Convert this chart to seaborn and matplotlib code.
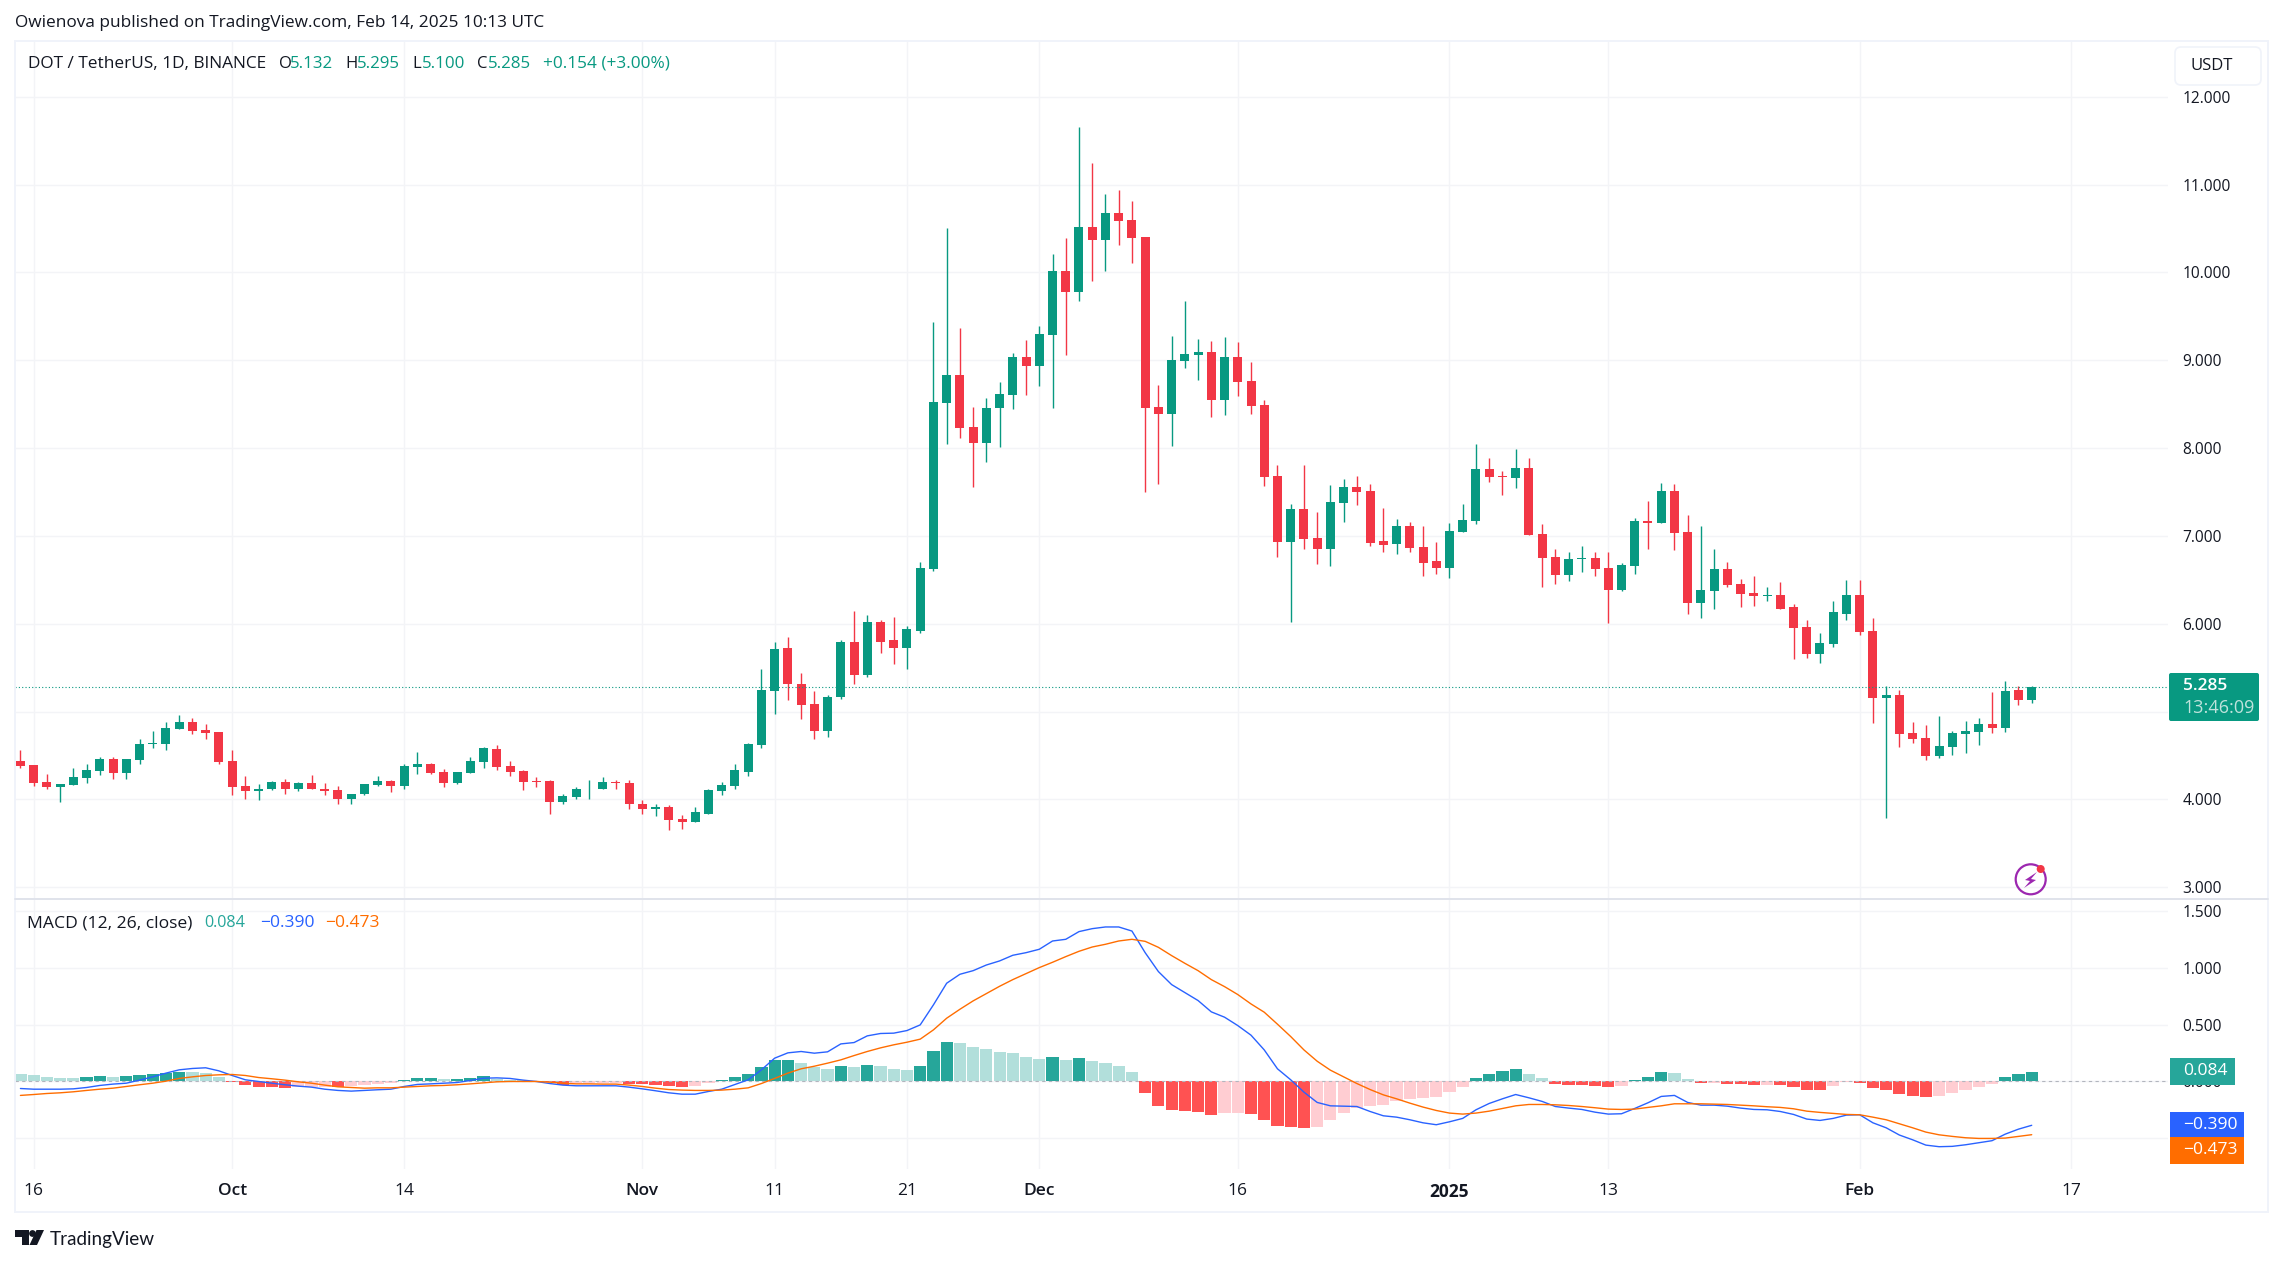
import numpy as np
import pandas as pd
import seaborn as sns
import matplotlib.pyplot as plt
from matplotlib.patches import Rectangle, FancyBboxPatch, Circle, Polygon, Arc

# Daily candles, DOT / USDT, 15 Sep 2024 to 14 Feb 2025
candle_dir = ("RRRGGGGRGG" "GGGRRRRRGG" "RGRRRGGGRG" "GRRGGGRRRR" "RGGGGRRRGR"
              "RGGGGGGGRR" "RGGRGRRGGG" "GRRGGGRGGR" "GRGRRRRGGG" "RGRRRRGRRG"
              "GRRRGRRRGG" "GRRGRRRGGR" "RGGRGRRGGR" "RRGRRRGGGR" "RGRRRGGGGR" "GRG")

highs = [4.559, 4.388, 4.285, 4.171, 4.354, 4.399, 4.479, 4.479, 4.456, 4.684,
         4.776, 4.878, 4.958, 4.924, 4.856, 4.764, 4.559, 4.262, 4.171, 4.205,
         4.228, 4.194, 4.274, 4.183, 4.148, 4.068, 4.171, 4.262, 4.217, 4.399,
         4.536, 4.410, 4.342, 4.308, 4.479, 4.593, 4.616, 4.433, 4.331, 4.251,
         4.217, 4.057, 4.137, 4.217, 4.251, 4.217, 4.217, 3.989, 3.943, 3.932,
         3.829, 3.909, 4.125, 4.194, 4.399, 4.639, 5.487, 5.798, 5.845, 5.436,
         5.232, 5.186, 5.812, 6.151, 6.104, 6.049, 6.081, 5.979, 6.698, 9.436,
         10.503, 9.367, 8.471, 8.573, 8.754, 9.084, 9.232, 9.390, 10.211, 10.392,
         11.654, 11.246, 10.893, 10.940, 10.814, 10.401, 8.722, 9.278, 9.677, 9.241,
         9.223, 9.265, 9.209, 8.981, 8.550, 7.812, 7.367, 7.812, 7.278, 7.585,
         7.652, 7.686, 7.595, 7.322, 7.197, 7.163, 7.117, 6.936, 7.152, 7.367,
         8.049, 7.890, 7.742, 7.992, 7.890, 7.140, 6.856, 6.822, 6.890, 6.822,
         6.822, 6.697, 7.208, 7.402, 7.606, 7.595, 7.242, 7.117, 6.856, 6.708,
         6.515, 6.549, 6.424, 6.481, 6.220, 6.049, 5.890, 6.265, 6.504, 6.504,
         6.061, 5.288, 5.242, 4.879, 4.845, 4.947, 4.777, 4.890, 4.924, 5.220,
         5.345, 5.288, 5.295]
body_top = [4.433, 4.388, 4.194, 4.171, 4.251, 4.331, 4.456, 4.456, 4.456, 4.627,
            4.639, 4.810, 4.878, 4.878, 4.787, 4.764, 4.433, 4.148, 4.125, 4.194,
            4.194, 4.183, 4.183, 4.125, 4.103, 4.068, 4.171, 4.205, 4.205, 4.376,
            4.399, 4.399, 4.308, 4.308, 4.433, 4.582, 4.570, 4.376, 4.319, 4.205,
            4.205, 4.034, 4.125, 4.125, 4.194, 4.194, 4.183, 3.954, 3.909, 3.909,
            3.783, 3.852, 4.103, 4.160, 4.331, 4.627, 5.243, 5.718, 5.719, 5.320,
            5.084, 5.172, 5.798, 5.798, 6.016, 6.016, 5.812, 5.937, 6.638, 8.527,
            8.833, 8.833, 8.244, 8.457, 8.619, 9.037, 9.037, 9.302, 10.016, 10.016,
            10.517, 10.517, 10.675, 10.675, 10.596, 10.401, 8.471, 9.005, 9.074, 9.097,
            9.097, 9.037, 9.037, 8.768, 8.494, 7.687, 7.302, 7.302, 6.981, 7.390,
            7.561, 7.561, 7.515, 6.947, 7.117, 7.117, 6.879, 6.720, 7.061, 7.186,
            7.765, 7.765, 7.686, 7.777, 7.777, 7.026, 6.765, 6.742, 6.754, 6.754,
            6.640, 6.674, 7.174, 7.174, 7.515, 7.515, 7.049, 6.390, 6.629, 6.629,
            6.458, 6.356, 6.333, 6.333, 6.186, 5.958, 5.777, 6.129, 6.333, 6.333,
            5.913, 5.186, 5.186, 4.754, 4.697, 4.606, 4.754, 4.777, 4.856, 4.856,
            5.231, 5.242, 5.285]
body_bottom = [4.376, 4.183, 4.137, 4.137, 4.160, 4.240, 4.319, 4.297, 4.297, 4.445,
               4.627, 4.627, 4.798, 4.776, 4.753, 4.422, 4.137, 4.091, 4.091, 4.114,
               4.125, 4.125, 4.114, 4.091, 4.011, 4.011, 4.057, 4.160, 4.148, 4.148,
               4.365, 4.297, 4.183, 4.183, 4.297, 4.422, 4.365, 4.308, 4.194, 4.194,
               3.977, 3.977, 4.023, 4.114, 4.114, 4.183, 3.943, 3.897, 3.897, 3.772,
               3.738, 3.738, 3.840, 4.091, 4.148, 4.308, 4.616, 5.240, 5.311, 5.070,
               4.777, 4.777, 5.162, 5.422, 5.422, 5.798, 5.719, 5.719, 5.923, 6.629,
               8.517, 8.230, 8.063, 8.063, 8.457, 8.606, 8.935, 8.935, 9.288, 9.780,
               9.780, 10.369, 10.369, 10.587, 10.392, 8.457, 8.392, 8.392, 8.995, 9.060,
               8.550, 8.550, 8.754, 8.480, 7.673, 6.935, 6.935, 6.967, 6.847, 6.847,
               7.379, 7.504, 6.924, 6.902, 6.913, 6.867, 6.697, 6.640, 6.640, 7.049,
               7.174, 7.674, 7.674, 7.663, 7.015, 6.754, 6.561, 6.561, 6.742, 6.629,
               6.390, 6.390, 6.663, 7.152, 7.152, 7.038, 6.242, 6.242, 6.379, 6.447,
               6.345, 6.322, 6.322, 6.174, 5.947, 5.652, 5.652, 5.765, 6.117, 5.902,
               5.152, 5.152, 4.742, 4.686, 4.492, 4.492, 4.595, 4.742, 4.765, 4.811,
               4.811, 5.129, 5.132]
lows = [4.354, 4.152, 4.125, 3.966, 4.160, 4.183, 4.274, 4.228, 4.228, 4.399,
        4.582, 4.559, 4.798, 4.741, 4.684, 4.399, 4.046, 4.000, 3.989, 4.103,
        4.068, 4.091, 4.114, 4.046, 3.943, 3.954, 4.046, 4.148, 4.080, 4.125,
        4.285, 4.285, 4.137, 4.171, 4.297, 4.354, 4.331, 4.262, 4.103, 4.137,
        3.840, 3.943, 4.000, 4.000, 4.114, 4.114, 3.897, 3.840, 3.817, 3.658,
        3.669, 3.738, 3.840, 4.046, 4.114, 4.262, 4.582, 4.970, 5.135, 4.912,
        4.694, 4.717, 5.139, 5.311, 5.399, 5.664, 5.538, 5.483, 5.891, 6.596,
        8.049, 8.118, 7.561, 7.845, 8.016, 8.448, 8.606, 8.708, 8.457, 9.060,
        9.677, 9.905, 10.016, 10.313, 10.109, 7.506, 7.594, 8.026, 8.912, 8.777,
        8.355, 8.378, 8.596, 8.392, 7.571, 6.763, 6.016, 6.847, 6.684, 6.661,
        7.163, 7.356, 6.890, 6.822, 6.799, 6.822, 6.549, 6.572, 6.527, 7.049,
        7.140, 7.617, 7.470, 7.549, 7.015, 6.424, 6.458, 6.492, 6.595, 6.549,
        6.004, 6.379, 6.572, 6.856, 7.152, 6.845, 6.117, 6.061, 6.163, 6.424,
        6.197, 6.208, 6.254, 6.174, 5.595, 5.606, 5.549, 5.731, 6.038, 5.867,
        4.867, 3.788, 4.595, 4.640, 4.447, 4.470, 4.504, 4.527, 4.617, 4.754,
        4.765, 5.072, 5.100]

# MACD (12, 26, close)
macd_hist = [.065, .056, .038, .029, .027, .038, .047, .038, .047, .056,
             .065, .074, .082, .08, .074, .038, -.006, -.032, -.05, -.052,
             -.059, -.052, -.05, -.048, -.05, -.041, -.032, -.024, -.015, .012,
             .029, .031, .02, .021, .029, .047, .02, .012, .009, .003,
             -.01, -.03, -.015, -.014, -.013, -.012, -.024, -.026, -.032, -.041,
             -.05, -.041, -.015, .012, .038, .065, .126, .188, .19, .162,
             .126, .109, .135, .126, .144, .135, .109, .1, .135, .268,
             .347, .338, .303, .285, .259, .25, .215, .197, .215, .188,
             .206, .179, .162, .135, .082, -.103, -.218, -.253, -.262, -.27,
             -.297, -.279, -.278, -.288, -.341, -.4, -.405, -.412, -.403, -.341,
             -.279, -.235, -.218, -.209, -.174, -.156, -.147, -.138, -.094, -.05,
             .029, .065, .091, .109, .065, .029, -.024, -.032, -.034, -.041,
             -.05, -.041, .012, .038, .082, .074, .02, -.015, -.013, -.024,
             -.026, -.032, -.031, -.033, -.05, -.076, -.078, -.041, -.006, -.015,
             -.059, -.076, -.112, -.129, -.138, -.129, -.103, -.076, -.05, -.024,
             .038, .065, .084]
macd_line = [-.065, -.071, -.071, -.071, -.068, -.056, -.038, -.026, -.018, .009,
             .038, .071, .1, .112, .118, .091, .05, .012, -.003, -.018,
             -.032, -.044, -.053, -.071, -.082, -.088, -.082, -.076, -.071, -.047,
             -.029, -.024, -.018, -.012, .006, .026, .029, .024, .009, -.003,
             -.021, -.035, -.041, -.041, -.041, -.041, -.053, -.068, -.085, -.103,
             -.115, -.115, -.091, -.071, -.029, .012, .1, .203, .25, .262,
             .247, .259, .329, .341, .4, .421, .424, .447, .497, .674,
             .865, .944, .976, 1.026, 1.062, 1.112, 1.135, 1.165, 1.238, 1.253,
             1.321, 1.347, 1.362, 1.362, 1.326, 1.135, .968, .853, .782, .712,
             .612, .565, .491, .406, .276, .109, .012, -.097, -.188, -.218,
             -.221, -.224, -.268, -.306, -.318, -.341, -.368, -.385, -.359, -.329,
             -.253, -.197, -.156, -.118, -.147, -.179, -.224, -.238, -.25, -.274,
             -.291, -.288, -.241, -.191, -.135, -.126, -.188, -.212, -.212, -.221,
             -.238, -.25, -.253, -.268, -.294, -.335, -.347, -.329, -.3, -.297,
             -.368, -.412, -.476, -.518, -.565, -.579, -.576, -.562, -.544, -.526,
             -.468, -.424, -.39]
signal_line = [-.126, -.118, -.109, -.103, -.094, -.082, -.071, -.062, -.047, -.032,
               -.018, 0, .024, .038, .05, .056, .059, .05, .032, .021,
               .009, -.006, -.018, -.035, -.05, -.056, -.062, -.059, -.059, -.053,
               -.047, -.041, -.038, -.032, -.024, -.015, -.006, -.003, -.003, -.003,
               -.009, -.018, -.024, -.024, -.026, -.026, -.035, -.047, -.062, -.074,
               -.079, -.082, -.082, -.079, -.071, -.059, -.021, .024, .071, .109,
               .132, .159, .188, .226, .262, .294, .321, .344, .371, .453,
               .556, .635, .709, .774, .838, .897, .95, 1.003, 1.05, 1.1,
               1.147, 1.185, 1.209, 1.238, 1.253, 1.235, 1.182, 1.109, 1.041, .976,
               .897, .835, .765, .682, .609, .503, .394, .276, .176, .097,
               .038, -.021, -.074, -.121, -.156, -.194, -.229, -.259, -.282, -.291,
               -.282, -.265, -.241, -.218, -.206, -.206, -.209, -.215, -.224, -.235,
               -.247, -.25, -.247, -.232, -.218, -.2, -.2, -.2, -.203, -.206,
               -.212, -.218, -.226, -.232, -.244, -.265, -.276, -.285, -.294, -.297,
               -.318, -.341, -.376, -.412, -.45, -.474, -.488, -.5, -.506, -.506,
               -.503, -.488, -.473]

price_ticks = [3, 4, 5, 6, 7, 8, 9, 10, 11, 12]
macd_ticks = [-0.5, 0, 0.5, 1.0, 1.5]
date_ticks = ['2024-09-16', '2024-10-01', '2024-10-14', '2024-11-01', '2024-11-11', '2024-11-21',
              '2024-12-01', '2024-12-16', '2025-01-01', '2025-01-13', '2025-02-01', '2025-02-17']
date_labels = ['16', 'Oct', '14', 'Nov', '11', '21', 'Dec', '16', '2025', '13', 'Feb', '17']

GREEN = '#089981'
RED = '#F23645'
GRID = '#F3F4F7'
INK = '#131722'
W, H = 2283, 1265

sns.set_theme(style='white')
plt.rcParams['font.family'] = ['Open Sans', 'DejaVu Sans']

dates = pd.date_range('2024-09-15', periods=len(highs))
days = np.arange(len(dates))
up = np.array([c == 'G' for c in candle_dir])
highs, lows = np.array(highs), np.array(lows)
body_top, body_bottom = np.array(body_top), np.array(body_bottom)
colors = np.where(up, GREEN, RED)

hist = np.array(macd_hist)
prev = np.r_[hist[0] + 1, hist[:-1]]
hist_kind = np.where(hist >= 0, np.where(hist >= prev, 'up_strong', 'up_weak'),
                     np.where(hist < prev, 'down_strong', 'down_weak'))
hist_df = pd.DataFrame({'day': days, 'hist': hist, 'kind': hist_kind})
hist_colors = {'up_strong': '#26A69A', 'up_weak': '#B2DFDB',
               'down_strong': '#FF5252', 'down_weak': '#FFCDD2'}


def box(left, top, right, bottom):
    return [left / W, 1 - bottom / H, (right - left) / W, (bottom - top) / H]


fig = plt.figure(figsize=(W / 100, H / 100), dpi=100)
ax = fig.add_axes(box(15, 41, 2168, 899))
ax2 = fig.add_axes(box(15, 899, 2168, 1169))

# candles
ax.vlines(days, lows, highs, colors=colors, linewidth=1.0, zorder=3)
ax.bar(days, body_top - body_bottom, bottom=body_bottom, width=0.68, color=colors,
       linewidth=0, zorder=4)
ax.axhline(5.285, color=GREEN, linestyle=(0, (1, 2)), linewidth=0.8, zorder=5)

# macd pane
sns.barplot(data=hist_df, x='day', y='hist', hue='kind', palette=hist_colors, dodge=False,
            native_scale=True, width=0.92, errorbar=None, legend=False, saturation=1,
            linewidth=0, ax=ax2, zorder=2)
ax2.axhline(0, color='#B2B5BE', linestyle=(0, (3, 3)), linewidth=0.8, zorder=3)
sns.lineplot(x=days, y=macd_line, color='#2962FF', linewidth=1.0, ax=ax2, zorder=4)
sns.lineplot(x=days, y=signal_line, color='#FF6D00', linewidth=1.0, ax=ax2, zorder=5)

date_pos = [dates.get_loc(pd.Timestamp(d)) if pd.Timestamp(d) in dates else len(dates) + 2
            for d in date_ticks]

for a in (ax, ax2):
    a.set_xlim(-0.41, 162.3)
    a.set_xlabel('')
    a.set_ylabel('')
    a.set_xticks(date_pos)
    a.grid(True, color=GRID, linewidth=1.0)
    a.set_axisbelow(True)
    a.yaxis.tick_right()
    a.tick_params(length=0, labelcolor=INK)
    for s in a.spines.values():
        s.set_visible(False)

# 5.000 and -0.500 sit behind the price tags in the original, so they get no label
ax.set_ylim(2.867, 12.635)
ax.set_yticks(price_ticks, ['' if v == 5 else f'{v:.3f}' for v in price_ticks], fontsize=11.2)
ax.tick_params(axis='y', pad=10.5)
ax.tick_params(axis='x', labelbottom=False)

ax2.set_ylim(-0.776, 1.609)
ax2.set_yticks(macd_ticks, ['' if v < 0 else f'{v:.3f}' for v in macd_ticks], fontsize=11.2)
ax2.tick_params(axis='y', pad=10.5)
ax2.set_xticklabels(date_labels, fontsize=12.5)
ax2.tick_params(axis='x', pad=10)
for lbl in ax2.get_xticklabels():
    if lbl.get_text() == '2025':
        lbl.set_fontweight('bold')
    elif not lbl.get_text().isdigit():
        lbl.set_fontweight('semibold')

# chrome drawn in picture pixels
ui = fig.add_axes([0, 0, 1, 1], zorder=10)
ui.set_xlim(0, W)
ui.set_ylim(H, 0)
ui.axis('off')
ui.patch.set_alpha(0)

ui.add_patch(Rectangle((14.5, 40.5), 2253.5, 1171.5, fill=False, edgecolor='#F0F3FA', linewidth=1.4))
ui.plot([15, 2268], [899, 899], color='#E0E3EB', linewidth=1.4)


def put(x, y, s, color=INK, size=12.4, **kw):
    ui.text(x, y, s, color=color, fontsize=size, va='center', ha=kw.pop('ha', 'left'), **kw)


put(15, 23, 'Owienova published on TradingView.com, Feb 14, 2025 10:13 UTC')
put(27.5, 64, 'DOT / TetherUS, 1D, BINANCE')
for x, lab, x2, val in [(278.7, 'O', 290, '5.132'), (345, 'H', 357, '5.295'),
                        (412, 'L', 421.5, '5.100'), (476.6, 'C', 487.6, '5.285')]:
    put(x, 64, lab, size=12)
    put(x2, 64, val, color=GREEN, size=12.2)
put(543, 64, '+0.154 (+3.00%)', color=GREEN)

put(26.7, 923, 'MACD (12, 26, close)', size=12.6)
put(204, 923, '0.084', color='#26A69A', size=11.6)
put(260, 923, '\u22120.390', color='#2962FF', size=12.6)
put(325, 923, '\u22120.473', color='#FF6D00', size=12.6)

# currency button
ui.add_patch(FancyBboxPatch((2175, 47), 86, 38, boxstyle='round,pad=0,rounding_size=6',
                            facecolor='white', edgecolor='#F0F3FA', linewidth=1.2))
put(2190, 66, 'USDT', size=12)

# last price tags
ui.add_patch(FancyBboxPatch((2169, 673), 90, 48, boxstyle='round,pad=0,rounding_size=2',
                            facecolor=GREEN, edgecolor='none'))
put(2183, 686, '5.285', color='white', size=12.5, fontweight='semibold')
put(2183, 708, '13:46:09', color='#BFE3DC', size=13)
ui.add_patch(Rectangle((2170, 1058), 65, 27, facecolor='#26A69A', edgecolor='none'))
put(2183, 1071, '0.084', color='white', size=12.6)
ui.add_patch(Rectangle((2170, 1112), 74, 25, facecolor='#2962FF', edgecolor='none'))
put(2183, 1125, '\u22120.390', color='white', size=12.6)
ui.add_patch(Rectangle((2170, 1137), 74, 27, facecolor='#FF6D00', edgecolor='none'))
put(2183, 1150, '\u22120.473', color='white', size=12.6)

# lightning badge
ui.add_patch(Arc((2030.7, 879.3), 30, 30, theta1=0, theta2=360, color='#9C27B0', linewidth=1.6))
ui.add_patch(Polygon([(2037, 872), (2025, 880), (2030, 881), (2024, 888), (2036, 880), (2031, 879)],
                     facecolor='#9C27B0', edgecolor='none'))
ui.add_patch(Circle((2040.7, 869), 4, facecolor='#F23645', edgecolor='none'))

# logo
ui.add_patch(Polygon([(15, 1230), (29, 1230), (29, 1245), (21.5, 1245), (21.5, 1237), (15, 1237)],
                     facecolor=INK, edgecolor='none'))
ui.add_patch(Circle((32.5, 1233.5), 3.4, facecolor=INK, edgecolor='none'))
ui.add_patch(Polygon([(36.5, 1230), (44, 1230), (37, 1245), (29.5, 1245)], facecolor=INK, edgecolor='none'))
ui.text(50, 1239, 'TradingView', color=INK, fontsize=13.6, family='Lato', va='center')

plt.savefig('out.png', dpi=100)
